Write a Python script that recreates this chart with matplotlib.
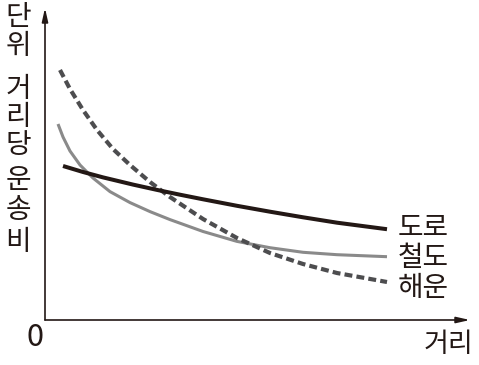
import matplotlib
matplotlib.use("Agg")
import matplotlib.pyplot as plt

plt.rcParams['font.family'] = ['Noto Sans CJK KR', 'DejaVu Sans']

# Data (distance, unit-distance transport cost; arbitrary units)
road_x = [4.24, 8.94, 13.65, 20.71, 26.35, 31.76, 37.18, 45.18, 52.94, 60.71, 68.71, 80.47]
road_y = [49.36, 47.44, 45.71, 43.40, 41.70, 40.16, 38.69, 36.60, 34.71, 32.92, 31.19, 29.10]

rail_x = [3.06, 4.24, 5.88, 8.24, 11.29, 15.29, 20.0, 24.71, 29.41, 37.18, 45.18, 52.94,
          60.71, 68.71, 80.47]
rail_y = [62.82, 58.65, 54.17, 49.68, 45.51, 41.15, 37.63, 34.74, 32.18, 28.37, 25.19, 23.17,
          21.70, 20.93, 20.29]

sea_x = [3.53, 5.88, 8.94, 12.24, 16.0, 20.0, 24.71, 29.41, 37.18, 45.18, 52.94, 60.71,
         68.71, 80.47]
sea_y = [80.13, 74.04, 67.31, 60.90, 54.81, 49.68, 44.23, 39.42, 32.37, 26.28, 21.47, 17.95,
         15.06, 12.18]

series_labels = ['도로', '철도', '해운']
y_label_chars = ['단', '위', '거', '리', '당', '운', '송', '비']
x_label = '거리'
origin_label = '0'

W, H = 479, 365
fig = plt.figure(figsize=(W / 100, H / 100), dpi=100)
ax = fig.add_axes([45 / W, 45 / H, 425 / W, 312 / H])
ax.set_xlim(0, 100)
ax.set_ylim(0, 100)
ax.axis('off')

axis_color = '#231815'
for tip in [(0, 1), (1, 0)]:
    ax.annotate('', xy=tip, xytext=(0, 0), xycoords='axes fraction',
                arrowprops=dict(arrowstyle='-|>,head_length=0.8,head_width=0.18',
                                color=axis_color, lw=1.2, shrinkA=0, shrinkB=0))

ax.plot(rail_x, rail_y, color='#8a8a8a', lw=2.2, solid_capstyle='butt',
        solid_joinstyle='round')
ax.plot(sea_x, sea_y, color='#4d4d4f', lw=3.0, dashes=(1.9, 1.0), dash_capstyle='butt',
        dash_joinstyle='round')
ax.plot(road_x, road_y, color='#231815', lw=2.9, solid_capstyle='butt',
        solid_joinstyle='round')

label_ys = [228, 258, 288]
for lab, py in zip(series_labels, label_ys):
    fig.text(398 / W, 1 - py / H, lab, fontsize=20, color='#231815',
             ha='left', va='center')

char_ys = [17, 46, 89, 117, 145, 180, 210, 242]
for ch, py in zip(y_label_chars, char_ys):
    fig.text(18 / W, 1 - py / H, ch, fontsize=20, color='#231815',
             ha='center', va='center')

fig.text(448 / W, 1 - 345 / H, x_label, fontsize=19.5, color='#231815',
         ha='center', va='center')
fig.text(35 / W, 1 - 338 / H, origin_label, fontsize=22, color='#231815',
         ha='center', va='center')

fig.savefig('out.png', dpi=100)
